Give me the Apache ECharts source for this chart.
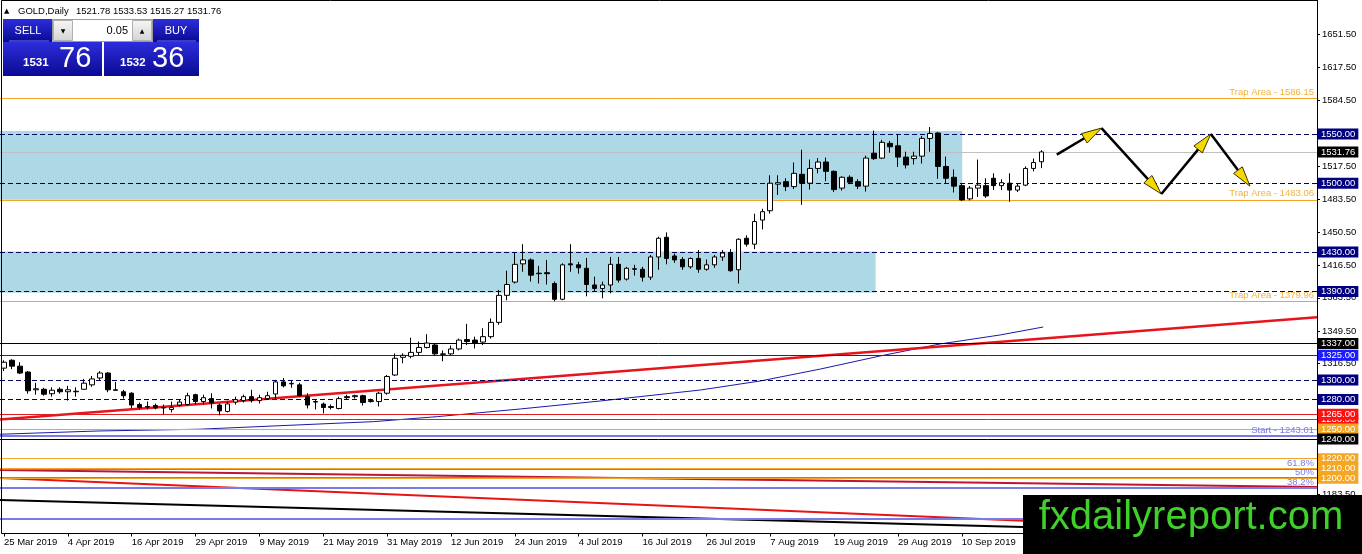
<!DOCTYPE html>
<html><head><meta charset="utf-8">
<script src="https://cdn.jsdelivr.net/npm/echarts@6/dist/echarts.min.js"></script>
<style>html,body{margin:0;padding:0;background:#fff}#c{width:1362px;height:554px}</style>
</head><body><div id="c"></div>
<script>
// ---------- DATA ----------
const dateLabels = ['25 Mar 2019','4 Apr 2019','16 Apr 2019','29 Apr 2019','9 May 2019','21 May 2019','31 May 2019','12 Jun 2019','24 Jun 2019','4 Jul 2019','16 Jul 2019','26 Jul 2019','7 Aug 2019','19 Aug 2019','29 Aug 2019','10 Sep 2019'];
const slotCount = 165;

const opens = [1312,1320,1314,1308,1290,1290.5,1286,1290.5,1288,1288,1290.5,1295,1302,1307,1290,1288,1286.5,1275,1273,1274,1272,1270,1274.5,1275,
1285,1278,1281,1274.5,1268,1277.5,1279,1283,1279,1281,1285.7,1298,1296.5,1295,1283,1278,1275.5,1272,1271,1283,1283,1284,1278,1278,1286.5,1305,1323,
1324,1328,1333,1335.5,1326,1326.5,1331.5,1341,1340.5,1338.5,1344,1358.5,1386,1399.5,1418,1422,1408,1409,1398,1382,1418,1417,1413.5,1396.5,
1393,1396.5,1417.5,1402.5,1413,1412.5,1404.5,1425,1445,1426,1422.5,1415,1423.5,1412.5,1417,1425,1429,1412,1444,1438,1462.5,1472,
1499,1501.5,1496.5,1509,1500,1515,1521.5,1512,1495,1506,1501.5,1497,1530.5,1525.5,1540.5,1538,1526.5,1525,1527.5,1545.5,1551,1517,1506,1497.5,1484,1495,1497.5,1505,1497.5,1500,1493,1498,1515,1521.78];
const highs = [1320,1321,1318,1309,1297,1292,1292.5,1292.5,1294,1292.5,1301,1304,1309,1308,1298,1290,1287.5,1277,1278,1276,1275,1278,1280,1287,
1286,1285,1286.5,1276,1278,1283,1285,1290,1285,1288,1300,1302,1300,1297,1286.5,1280,1277,1275,1283,1285,1285,1285,1281,1288,1305,1327,1327,
1343,1339,1346.5,1337,1330,1335,1342,1357,1344,1352.5,1362.5,1391.5,1411,1429,1438,1423.5,1416,1422,1400,1418.5,1438,1420,1424,1405,
1400,1425,1425,1415,1417,1415,1427,1445.5,1450,1428.5,1425,1424.5,1432,1422.5,1427,1432,1433,1444,1447,1469,1474,1508,
1508,1505,1521,1534,1524,1525.5,1526,1513,1507,1508,1504,1528,1553.5,1544,1543,1549,1532,1532,1548,1557,1552,1527,1514,1500,1497,1524,1505,1510,1504,1510,1500,1517,1525,1533.53];
const lows = [1309,1311,1306,1286,1285,1284,1283,1286,1279,1283,1290,1293,1300,1287.5,1289,1281,1271,1270,1270,1270,1265,1267,1273,1274,
1275,1275,1271,1264,1267,1275,1277,1277,1276,1280,1280,1292.5,1292,1283,1271,1270,1266,1270,1270,1280,1281,1274,1277,1273,1285,1304,1317,
1322,1325,1332,1325,1319,1325,1330,1335.5,1332,1335.5,1342,1356,1381,1398,1410,1400,1398,1397,1380,1381,1410,1408,1385,1390,
1383,1388,1399,1401,1406,1400,1401.5,1412,1417.5,1419,1412,1413,1409,1411,1414,1421,1410,1398,1435.5,1433,1453,1469,
1488,1492,1494,1478,1493.5,1510,1502,1491,1492.5,1499,1494,1491.5,1523.5,1524.5,1531,1516.5,1515,1519,1520,1532,1504.5,1500,1490.5,1482,1482.5,1486,1485,1493,1493,1481,1491,1497,1512,1515.27];
const closes = [1318,1314,1307,1289,1291,1285.5,1289.5,1288,1290,1288.5,1296.7,1301,1307,1290,1289.5,1284,1274.5,1272,1272.5,1271.5,1271.5,1272,1277.5,1284,
1278,1282,1276.5,1268.5,1275.6,1280,1283,1279,1282,1284,1298,1294,1296,1284,1274.5,1277.5,1272,1273,1281,1282,1284,1277,1279,1286.5,1303.5,1322,1325,
1328,1333,1337.5,1326.5,1326.5,1331.5,1340.5,1339,1337.5,1344,1358.5,1386,1397,1417.5,1422,1406.5,1408.5,1408,1382,1417,1417,1414,1397,1393,
1396.5,1417.5,1401.5,1413.5,1412.5,1404.5,1425,1444,1423.5,1422,1415,1423.5,1412.5,1417,1425,1429,1411,1443,1438,1461,1471,1500,
1500.5,1496.5,1510,1500,1515,1521.5,1512,1493.5,1506,1501,1497,1525.5,1525,1541.5,1537,1526.5,1518.5,1527.5,1545.5,1550.5,1517,1505,1497,1483,1495,1498,1487,1497.5,1500.5,1493,1497,1515,1521,1531.76];

const priceTicks = [1651.5,1617.5,1584.5,1517.5,1483.5,1450.5,1416.5,1383.5,1349.5,1316.5,1183.5];
const hiddenTicks = [1550.5,1282.5,1249.5,1215.5,1149.5];

// horizontal levels
const dashedLevels = [1550,1500,1430,1390,1300,1280];
const trapLevels = [1586.15,1483.06,1379.96];
const lastPrice = 1531.76;
const blackLevels = [1337,1240];
const blueLevels = [1325];
const redLevels = [1260,1265];
const orangeLevels = [1250,1220,1210,1200];
const startLevel = 1243.01;
const fibNames = ['61.8%','50%','38.2%'];
const fibValues = [1209.5,1200.4,1190.2];
const lowerPurpleLevel = 1158.7;

// sloped lines [barIndex, price]
const redTrendUp = [[-0.5,1259.8],[164.5,1363.7]];
const redTrendDown = [[-0.5,1200.4],[164.5,1144.3]];
const crimsonTrendDown = [[-0.5,1208.5],[164.5,1191.2]];
const blackTrendDown = [[-0.5,1178.0],[164.5,1142.6]];
const maLine = [[-0.5,1244.8],[11.8,1248.1],[24.4,1249.9],[46.3,1257.6],[54.3,1262.7],[64.7,1270.5],[74.7,1278.6],[87.3,1289.8],[94.8,1299],[102.3,1311.1],[109.8,1324.4],[117.3,1336.6],[124.8,1345.7],[130.2,1353.8]];

// rectangles [fromBar, toBar, topPrice, bottomPrice]
const zones = [[-0.5,120.05,1553,1483.06],[-0.5,109.2,1430.5,1388.5]];

// projection path
const projX = [131.9,137.5,145.0,151.2,156.1];
const projY = [1529,1556,1489,1550,1497];

// ---------- CHART ----------
const FONT = '"Liberation Sans", Arial, sans-serif';
const cats = Array.from({length: slotCount}, (_, i) => String(i));
const candles = opens.map((o, i) => [o, closes[i], lows[i], highs[i]]);
const showIdx = (idx) => idx % 8 === 0 && idx / 8 < dateLabels.length;

function boxLine(v, bg, lineStyle) {
  return {
    yAxis: v, lineStyle: lineStyle,
    label: {show: true, position: 'end', distance: 1, formatter: v.toFixed(2),
      backgroundColor: bg, color: '#fff', padding: [1, 3, 0, 3], fontSize: 9.5, lineHeight: 10, fontFamily: FONT}
  };
}
function textLine(v, txt, color, lineStyle) {
  return {
    yAxis: v, lineStyle: lineStyle,
    label: {show: true, position: 'insideEndTop', distance: [3, 1], formatter: txt, color: color, fontSize: 9.5, fontFamily: FONT}
  };
}
function plainLine(v, lineStyle) {
  return {yAxis: v, lineStyle: lineStyle, label: {show: false}};
}

const ORANGE = '#f2a52b';
const PURPLE = '#7b7be6';
const NAVY = '#000080';
const dash = {type: [5, 3], color: '#00005a', width: 1};

const mlData = [];
trapLevels.forEach(v => mlData.push(textLine(v, 'Trap Area - ' + v.toFixed(2), '#f3b23c', {type: 'solid', color: ORANGE, width: 1})));
mlData.push(textLine(startLevel, 'Start - ' + startLevel.toFixed(2), PURPLE, {type: 'solid', color: PURPLE, width: 2}));
fibValues.forEach((v, i) => mlData.push(textLine(v, fibNames[i], PURPLE, {type: 'solid', color: PURPLE, width: 2})));
mlData.push(plainLine(lowerPurpleLevel, {type: 'solid', color: PURPLE, width: 2}));
mlData.push(boxLine(lastPrice, '#000', {type: 'solid', color: '#c0c0c0', width: 1}));
dashedLevels.forEach(v => mlData.push(boxLine(v, NAVY, dash)));
blueLevels.forEach(v => mlData.push(boxLine(v, '#1a1aff', {type: 'solid', color: '#1c1cb0', width: 1})));
redLevels.forEach(v => mlData.push(boxLine(v, '#ff1010', {type: 'solid', color: '#e02020', width: 1})));
orangeLevels.forEach(v => mlData.push(boxLine(v, '#f5a623', {type: 'solid', color: ORANGE, width: 1})));
blackLevels.forEach(v => mlData.push(boxLine(v, '#000', {type: 'solid', color: '#000', width: 1})));

const arrowSegs = [];
for (let i = 0; i < projX.length - 1; i++) arrowSegs.push([projX[i], projY[i], projX[i + 1], projY[i + 1]]);

function trend(data, color, width, z) {
  return {type: 'line', xAxisIndex: 1, data: data, symbol: 'none', silent: true, z: z,
    lineStyle: {color: color, width: width}, animation: false};
}

const blueGrad = {type: 'linear', x: 0, y: 0, x2: 0, y2: 1, colorStops: [{offset: 0, color: '#2d2ddc'}, {offset: 1, color: '#0a0a92'}]};
const grayGrad = {type: 'linear', x: 0, y: 0, x2: 0, y2: 1, colorStops: [{offset: 0, color: '#f6f6f6'}, {offset: 1, color: '#d4d4d4'}]};

const chart = echarts.init(document.getElementById('c'), null, {renderer: 'canvas'});
chart.setOption({
  animation: false,
  backgroundColor: '#fff',
  textStyle: {fontFamily: FONT},
  grid: {left: -1, top: 0, width: 1318, height: 533.5, containLabel: false, show: false},
  xAxis: [{
    type: 'category', data: cats, boundaryGap: true,
    axisLine: {show: false, onZero: false},
    axisTick: {show: true, interval: showIdx, alignWithLabel: true, length: 3, lineStyle: {color: '#000'}},
    axisLabel: {interval: showIdx, formatter: (v, idx) => dateLabels[idx / 8] || '', align: 'left', margin: 4,
      fontSize: 9.5, color: '#000', fontFamily: FONT},
    splitLine: {show: false}
  }, {
    type: 'value', min: -0.5, max: slotCount - 0.5, show: false, splitLine: {show: false},
    axisLine: {show: false, onZero: false}
  }],
  yAxis: {
    type: 'value', position: 'right', min: 1143.9, max: 1686.2,
    axisLine: {show: true, onZero: false, lineStyle: {color: '#000'}},
    axisTick: {show: true, length: 3, customValues: priceTicks.concat(hiddenTicks), lineStyle: {color: '#000'}},
    axisLabel: {customValues: priceTicks, formatter: v => v.toFixed(2), margin: 5, fontSize: 9.5, color: '#000', fontFamily: FONT},
    splitLine: {show: false}
  },
  series: [
    {
      type: 'custom', name: 'zones', xAxisIndex: 1, z: 1, silent: true, data: zones,
      encode: {x: [0, 1], y: [2, 3]},
      renderItem: (params, api) => {
        const a = api.coord([api.value(0), api.value(2)]);
        const b = api.coord([api.value(1), api.value(3)]);
        return {type: 'rect', shape: {x: a[0], y: a[1], width: b[0] - a[0], height: b[1] - a[1]}, style: {fill: '#add8e6'}};
      }
    },
    {
      type: 'line', name: 'levels', xAxisIndex: 0, data: [], z: 3, silent: true,
      markLine: {symbol: 'none', silent: true, animation: false, data: mlData}
    },
    trend(maLine, '#1a1aa8', 1, 2),
    trend(blackTrendDown, '#000', 2, 2),
    trend(redTrendDown, '#e81414', 2, 2),
    trend(crimsonTrendDown, '#c01530', 2, 2),
    trend(redTrendUp, '#e8141c', 2.5, 4),
    {
      type: 'candlestick', name: 'GOLD', xAxisIndex: 0, data: candles, z: 5, barWidth: 5,
      itemStyle: {color: '#fff', color0: '#000', borderColor: '#000', borderColor0: '#000', borderColorDoji: '#000', borderWidth: 1}
    },
    {
      type: 'custom', name: 'projection', xAxisIndex: 1, z: 10, silent: true, data: arrowSegs,
      encode: {x: [0, 2], y: [1, 3]},
      renderItem: (params, api) => {
        const a = api.coord([api.value(0), api.value(1)]);
        const b = api.coord([api.value(2), api.value(3)]);
        const dx = b[0] - a[0], dy = b[1] - a[1];
        const L = Math.hypot(dx, dy), ux = dx / L, uy = dy / L, px = -uy, py = ux;
        const hl = 20, hw = 5.5;
        const bx = b[0] - ux * hl, by = b[1] - uy * hl;
        return {type: 'group', children: [
          {type: 'line', shape: {x1: a[0], y1: a[1], x2: bx + ux * 4, y2: by + uy * 4}, style: {stroke: '#000', lineWidth: 2.5}},
          {type: 'polygon', shape: {points: [[b[0], b[1]], [bx + px * hw, by + py * hw], [bx - px * hw, by - py * hw]]},
            style: {fill: '#f5d800', stroke: '#3a3300', lineWidth: 1}}
        ]};
      }
    }
  ],
  graphic: [
    // frame
    {type: 'rect', z: 50, silent: true, shape: {x: 1.5, y: 0.5, width: 1316, height: 533}, style: {fill: 'none', stroke: '#000', lineWidth: 1}},
    // header
    {type: 'text', z: 60, x: 4, y: 11, style: {text: '▲', font: '7px "DejaVu Sans"', fill: '#000', verticalAlign: 'middle'}},
    {type: 'text', z: 60, x: 18, y: 11, style: {text: 'GOLD,Daily', font: '9.5px ' + FONT, fill: '#000', verticalAlign: 'middle'}},
    {type: 'text', z: 60, x: 76, y: 11, style: {text: '1521.78 1533.53 1515.27 1531.76', font: '9.5px ' + FONT, fill: '#000', verticalAlign: 'middle'}},
    // trade panel
    {type: 'rect', z: 60, shape: {x: 3, y: 19, width: 49, height: 23}, style: {fill: blueGrad}},
    {type: 'rect', z: 60, shape: {x: 153, y: 19, width: 46, height: 23}, style: {fill: blueGrad}},
    {type: 'rect', z: 60, shape: {x: 3, y: 42, width: 99, height: 34}, style: {fill: blueGrad}},
    {type: 'rect', z: 60, shape: {x: 104, y: 42, width: 95, height: 34}, style: {fill: blueGrad}},
    {type: 'line', z: 61, shape: {x1: 9, y1: 41, x2: 49, y2: 41}, style: {stroke: '#7070f0', lineWidth: 1}},
    {type: 'line', z: 61, shape: {x1: 157, y1: 41, x2: 196, y2: 41}, style: {stroke: '#7070f0', lineWidth: 1}},
    {type: 'rect', z: 60, shape: {x: 52.5, y: 19.5, width: 100, height: 22}, style: {fill: '#fff', stroke: '#9a9a9a', lineWidth: 1}},
    {type: 'rect', z: 61, shape: {x: 53.5, y: 20.5, width: 19, height: 20}, style: {fill: grayGrad, stroke: '#b0b0b0', lineWidth: 1}},
    {type: 'rect', z: 61, shape: {x: 132.5, y: 20.5, width: 19, height: 20}, style: {fill: grayGrad, stroke: '#b0b0b0', lineWidth: 1}},
    {type: 'text', z: 62, x: 63, y: 31, style: {text: '▼', font: '6px "DejaVu Sans"', fill: '#000', align: 'center', verticalAlign: 'middle'}},
    {type: 'text', z: 62, x: 142, y: 31, style: {text: '▲', font: '6px "DejaVu Sans"', fill: '#000', align: 'center', verticalAlign: 'middle'}},
    {type: 'text', z: 62, x: 128, y: 31, style: {text: '0.05', font: '11px ' + FONT, fill: '#000', align: 'right', verticalAlign: 'middle'}},
    {type: 'text', z: 62, x: 28, y: 31, style: {text: 'SELL', font: '11px ' + FONT, fill: '#fff', align: 'center', verticalAlign: 'middle'}},
    {type: 'text', z: 62, x: 176, y: 31, style: {text: 'BUY', font: '11px ' + FONT, fill: '#fff', align: 'center', verticalAlign: 'middle'}},
    {type: 'text', z: 62, x: 23, y: 63, style: {text: '1531', font: 'bold 11.5px ' + FONT, fill: '#fff', verticalAlign: 'middle'}},
    {type: 'text', z: 62, x: 59, y: 59, style: {text: '76', font: '29px ' + FONT, fill: '#fff', verticalAlign: 'middle'}},
    {type: 'text', z: 62, x: 120, y: 63, style: {text: '1532', font: 'bold 11.5px ' + FONT, fill: '#fff', verticalAlign: 'middle'}},
    {type: 'text', z: 62, x: 152, y: 59, style: {text: '36', font: '29px ' + FONT, fill: '#fff', verticalAlign: 'middle'}},
    // watermark logo
    {type: 'rect', z: 70, shape: {x: 1023, y: 495, width: 339, height: 59}, style: {fill: '#000'}},
    {type: 'text', z: 71, x: 1191, y: 518, style: {text: 'fxdailyreport.com', font: '40px ' + FONT, fill: '#3fd12a', align: 'center', verticalAlign: 'middle'}}
  ]
});
</script>
</body></html>
